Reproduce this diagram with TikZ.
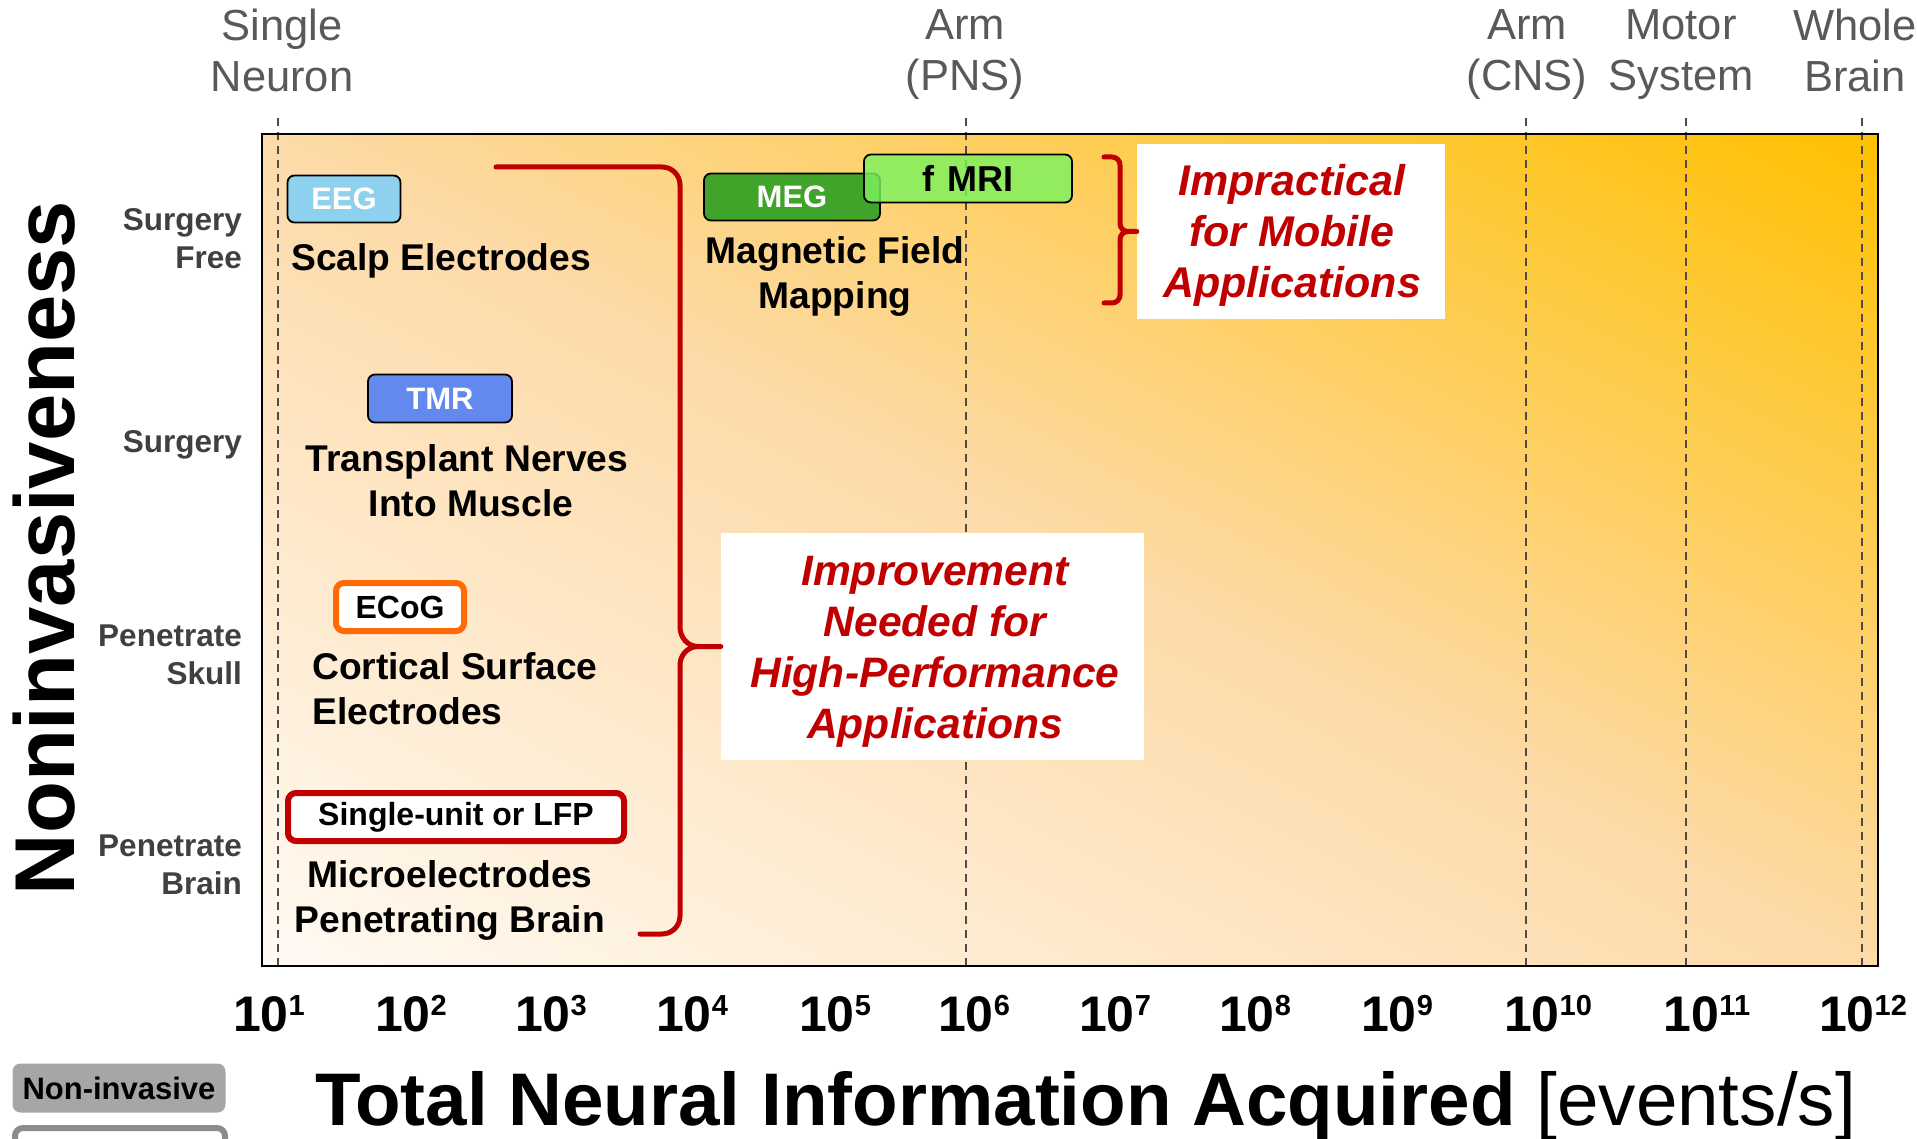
\documentclass[tikz,border=0pt]{standalone}
\usepackage{fontspec}
\setmainfont{Liberation Sans}

\definecolor{braceRed}{HTML}{C00000}
\definecolor{eegBlue}{HTML}{8ED1EE}
\definecolor{megGreen}{HTML}{41A42A}
\definecolor{fmriGreen}{HTML}{7CF25E}
\definecolor{tmrBlue}{HTML}{6388EE}
\definecolor{ecogOrange}{HTML}{FF6A08}
\definecolor{axisGray}{HTML}{595959}
\definecolor{rowGray}{HTML}{404040}
\definecolor{legendGray}{HTML}{A6A6A6}
\definecolor{legendEdge}{HTML}{8C8C8C}
\definecolor{plotLight}{HTML}{FFFAF4}
\definecolor{plotMid}{HTML}{FDDAA8}
\definecolor{plotGold}{HTML}{FFC000}

\begin{document}
\begin{tikzpicture}[x=1pt,y=-1pt,
  tag/.style={draw=black, line width=1.8pt, rounded corners=7pt, inner sep=0pt,
    font=\bfseries\fontsize{31}{31}\selectfont},
  ringtag/.style={fill=white, line width=6pt, rounded corners=8pt, inner sep=0pt,
    font=\bfseries\fontsize{32}{32}\selectfont},
  method/.style={inner sep=0pt, font=\bfseries\fontsize{37.2}{45}\selectfont},
  rowlabel/.style={inner sep=0pt, text=rowGray, align=right, anchor=east,
    font=\bfseries\fontsize{31.5}{38}\selectfont},
  toplabel/.style={inner sep=0pt, text=axisGray, align=center,
    font=\fontsize{43.5}{51}\selectfont},
  tick/.style={inner sep=0pt, anchor=base, font=\bfseries\fontsize{50}{50}\selectfont},
  notebox/.style={fill=white, inner sep=0pt},
  note/.style={inner sep=0pt, text=braceRed, align=center,
    font=\bfseries\itshape\fontsize{42.6}{51}\selectfont},
  guide/.style={draw=black!70, line width=2pt, dash pattern=on 8pt off 6pt},
  brace/.style={draw=braceRed, line width=5pt, line cap=round, line join=round},
]
\useasboundingbox (0,0) rectangle (1917,1139);

% plot area: a left-to-right gradient turned by 45 degrees over a square,
% then stretched to the plot width, so it runs corner to corner
\begin{scope}
  \clip (262,134) rectangle (1878,966);
  \begin{scope}[transform canvas={xshift=262pt, yshift=-966pt, xscale=1.942308, rotate=45}]
    \shade[left color=plotLight, right color=plotGold, middle color=plotMid]
      (0pt,-588.3pt) rectangle (1176.6pt,588.3pt);
  \end{scope}
\end{scope}

% reference levels
\foreach \gx/\gname in {278/neuron, 966/pns, 1526/cns, 1686/motor, 1862/brain}{
  \coordinate (\gname top) at (\gx,118);
  \coordinate (\gname bot) at (\gx,966);
  \draw[guide] (\gname top) -- (\gname bot);
}
\draw[line width=2.5pt] (262,134) rectangle (1878,966);

% top labels
\node[toplabel] (lblNeuron) at (282,50)   {Single\\Neuron};
\node[toplabel] (lblPNS)    at (965,54.5) {Arm\\(PNS)};
\node[toplabel] (lblCNS)    at (1527,54.5){Arm\\(CNS)};
\node[toplabel] (lblMotor)  at (1681,54.5){Motor\\System};
\node[toplabel] (lblBrain)  at (1855,50)  {Whole\\Brain};

% vertical axis
\node[rotate=90, anchor=base, inner sep=0pt, font=\bfseries\fontsize{85}{85}\selectfont]
  (yaxis) at (74,548) {Noninvasiveness};
\node[rowlabel] (rowFree)  at (242,238.8) {Surgery\\Free};
\node[rowlabel, anchor=base east] (rowSurgery) at (242,452.3) {Surgery};
\node[rowlabel] (rowSkull) at (242,654.6) {Penetrate\\Skull};
\node[rowlabel] (rowBrain) at (242,864.8) {Penetrate\\Brain};

% recording methods
\node[tag, fill=eegBlue, text=white, minimum width=113, minimum height=47] (eeg) at (344,199) {EEG};
\node[method, anchor=base west] (scalp) at (291,271) {Scalp Electrodes};

\node[tag, fill=megGreen, text=white, minimum width=176, minimum height=47] (meg) at (792,197) {MEG};
\node[tag, fill=fmriGreen, fill opacity=0.82, text opacity=1, minimum width=208, minimum height=48,
  font=\bfseries\fontsize{36}{36}\selectfont] (fmri) at (968,178.5) {f\hspace{14pt}MRI\hspace{12pt}};
\node[method, align=center] (magnet) at (835,276) {Magnetic Field\\Mapping};

\node[tag, fill=tmrBlue, text=white, minimum width=144, minimum height=48] (tmr) at (440,398.5) {TMR};
\node[method, align=center] (transplant) at (467,481) {Transplant Nerves\\\hspace{8pt}Into Muscle};

\node[ringtag, draw=ecogOrange, minimum width=128, minimum height=48] (ecog) at (400,607) {ECoG};
\node[method, align=left, anchor=west] (cortical) at (312,689) {Cortical Surface\\Electrodes};

\node[ringtag, draw=braceRed, minimum width=336, minimum height=48] (single) at (456,817) {Single-unit or LFP};
\node[method, align=center] (micro) at (450,900) {Microelectrodes\hspace{8pt}\\Penetrating Brain};

% conclusions
\node[notebox, minimum width=308, minimum height=175] (impractical) at (1291,231.5) {};
\node[note, font=\bfseries\itshape\fontsize{43}{51}\selectfont] (impText) at (1292,235.5)
  {Impractical\\for Mobile\\Applications};
\node[notebox, minimum width=423, minimum height=227] (improvement) at (932.5,646.5) {};
\node[note] (impvText) at (935,651.5) {Improvement\\Needed for\\High-Performance\\Applications};

% braces
\coordinate (bigTop) at (496,167);
\coordinate (bigBot) at (640,934);
\draw[brace] (bigTop) -- (662,167) to[out=0,in=90] (680,185) -- (680,627)
  to[out=-90,in=180] (698,646.5) -- (improvement.west)
  (698,646.5) to[out=180,in=90] (680,665) -- (680,916) to[out=-90,in=0] (662,934) -- (bigBot);

\coordinate (smallTop) at (1104,157);
\coordinate (smallBot) at (1104,303);
\draw[brace] (smallTop) -- (1112,157) to[out=0,in=90] (1120,165) -- (1120,223.5)
  to[out=-90,in=180] (1128,231.5) -- (impractical.west)
  (1128,231.5) to[out=180,in=90] (1120,239.5) -- (1120,295) to[out=-90,in=0] (1112,303) -- (smallBot);

% horizontal axis
\foreach \tx/\te in {269/1, 411/2, 551/3, 692/4, 835/5, 974/6, 1115/7, 1255/8, 1397/9, 1548/10, 1707/11, 1863/12}{
  \node[tick] (tick\te) at (\tx,1031) {10\raisebox{16pt}{\fontsize{29}{29}\selectfont\te}};
}
\node[anchor=base west, inner sep=0pt, font=\fontsize{74.6}{74.6}\selectfont] (xaxis) at (315,1125)
  {\textbf{Total Neural Information Acquired} [events/s]};

% legend
\node[fill=legendGray, rounded corners=8pt, minimum width=213, minimum height=49, inner sep=0pt,
  font=\bfseries\fontsize{31}{31}\selectfont] (noninv) at (119,1088) {Non-invasive};
\node[draw=legendEdge, line width=6pt, fill=white, rounded corners=8pt, minimum width=210,
  minimum height=49, inner sep=0pt, anchor=north] (legendTwo) at (120,1125) {};
\end{tikzpicture}
\end{document}
